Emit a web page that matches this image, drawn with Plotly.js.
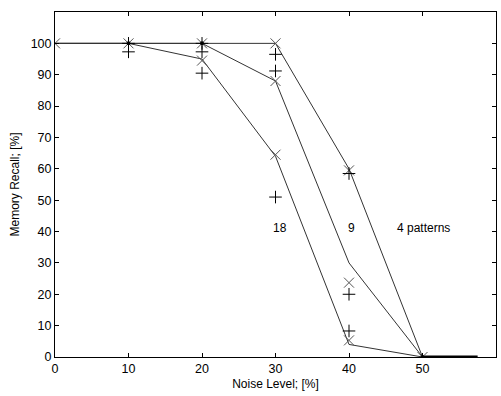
<!DOCTYPE html>
<html>
<head>
<meta charset="utf-8">
<script src="https://cdn.plot.ly/plotly-3.0.1.min.js"></script>
<style>html,body{margin:0;padding:0;background:#fff;}#chart{width:501px;height:396px;}</style>
</head>
<body>
<div id="chart"></div>
<script>
// Noise levels (%)
const noise = [0, 10, 20, 30, 40, 50];
// Lines (memory recall %) for stored pattern counts
const line4 = [100, 100, 100, 100, 60, 0];
const line9 = [100, 100, 100, 88, 30, 0];
const line18 = [100, 100, 95, 64, 4, 0];
// tail along zero after 50%
const tailX = [50, 57.5];
const tailY = [0, 0];
// "x" markers
const xMarkX = [0, 10, 20, 20, 30, 30, 30, 40, 40, 40, 50];
const xMarkY = [100, 100, 100, 94.5, 100, 88, 64.5, 59.5, 23.7, 5.3, 0];
// "+" markers
const pMarkX = [10, 10, 20, 20, 20, 30, 30, 30, 40, 40, 40];
const pMarkY = [100, 97.3, 100, 97.3, 90.5, 96.5, 91.2, 51, 58.5, 20, 8.3];
// dots
const dotX = [10, 20, 50];
const dotY = [100, 100, 0];
// labels
const labelText = ['18', '9', '4 patterns'];
const labelX = [30.6, 40.3, 50.1];
const labelY = [41, 41, 41];

const FONT = 'Liberation Sans, Arial, sans-serif';
const lineStyle = {color: '#333', width: 1};
const traces = [
  {x: noise, y: line4, mode: 'lines', line: lineStyle},
  {x: noise, y: line9, mode: 'lines', line: lineStyle},
  {x: noise, y: line18, mode: 'lines', line: lineStyle},
  {x: tailX, y: tailY, mode: 'lines', line: {color: '#000', width: 3}},
  {x: xMarkX, y: xMarkY, mode: 'markers', cliponaxis: true,
   marker: {symbol: 'x-thin-open', size: 10, color: '#555', line: {color: '#555', width: 1}}},
  {x: pMarkX, y: pMarkY, mode: 'markers',
   marker: {symbol: 'cross-thin-open', size: 9, color: '#000', line: {color: '#000', width: 1}}},
  {x: dotX, y: dotY, mode: 'markers', marker: {symbol: 'circle', size: 4, color: '#000'}}
];

const axisCommon = {
  showgrid: false, zeroline: false, showline: true, mirror: 'ticks',
  linecolor: '#000', linewidth: 1, ticks: 'inside', ticklen: 4, tickcolor: '#000',
  tickfont: {family: FONT, size: 12.5, color: '#000'}
};

const layout = {
  width: 501, height: 396,
  margin: {l: 55, r: 5, t: 12, b: 39},
  paper_bgcolor: '#fff', plot_bgcolor: '#fff',
  showlegend: false,
  xaxis: Object.assign({}, axisCommon, {
    range: [0, 60], tickvals: [0, 10, 20, 30, 40, 50, 60],
    title: {text: 'Noise Level; [%]', standoff: 4,
            font: {family: FONT, size: 12, color: '#000'}}
  }),
  yaxis: Object.assign({}, axisCommon, {
    range: [0, 110], tickvals: [0, 10, 20, 30, 40, 50, 60, 70, 80, 90, 100],
    title: {text: 'Memory Recall; [%]', standoff: 8,
            font: {family: FONT, size: 12, color: '#000'}}
  }),
  annotations: labelText.map((t, i) => ({
    x: labelX[i], y: labelY[i], text: t, showarrow: false,
    font: {family: FONT, size: 12, color: '#000'}
  }))
};

Plotly.newPlot('chart', traces, layout, {staticPlot: true, displayModeBar: false});
</script>
</body>
</html>
